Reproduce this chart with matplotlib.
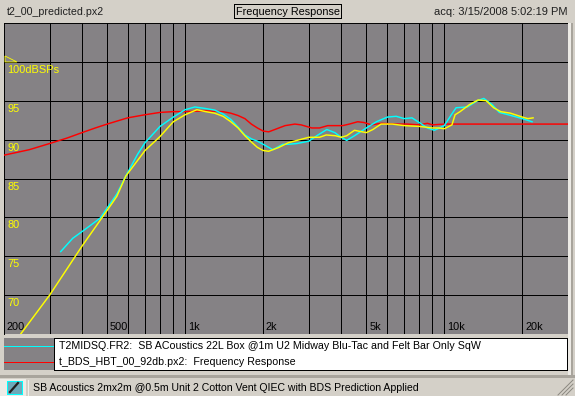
import matplotlib
matplotlib.use('Agg')
import matplotlib.pyplot as plt
from matplotlib.patches import Rectangle, Polygon

plt.rcParams['font.family'] = ['Liberation Sans', 'DejaVu Sans']

# traces: frequency in Hz, level in dB
red_f = [200, 220, 250, 300, 350, 400, 450, 500, 600, 700, 800, 900, 1000, 1200, 1400, 1500, 1600, 1700, 1800, 1900,
         2000, 2100, 2300, 2430, 2650, 2800, 3080, 3300, 3550, 4050, 4300, 4630, 4900, 5230, 5720, 6500, 7200, 8000,
         8600, 9000, 10000, 30000]
red_db = [88.0, 88.3, 88.7, 89.5, 90.2, 90.9, 91.5, 92.0, 92.8, 93.2, 93.5, 93.6, 93.6, 93.7, 93.6, 93.4, 93.1, 92.7,
          92.0, 91.5, 91.1, 91.0, 91.5, 91.8, 92.0, 91.9, 91.5, 91.5, 91.8, 91.8, 92.0, 92.3, 92.2, 91.9, 92.1, 92.0,
          92.0, 91.9, 92.1, 91.9, 92.0, 92.0]

cyan_f = [331, 368, 405, 470, 500, 545, 590, 655, 700, 800, 900, 1000, 1090, 1200, 1300, 1400, 1500, 1600, 1700, 1800,
          1900, 2000, 2180, 2380, 2500, 2700, 3000, 3220, 3520, 3780, 4000, 4200, 4500, 5000, 5470, 6030, 6520, 7000,
          7500, 8000, 8600, 9150, 10000, 10640, 11100, 12270, 13400, 14200, 15300, 16300, 18100, 20000, 21800]
cyan_db = [75.6, 77.3, 78.3, 79.9, 81.2, 83.0, 85.3, 88.1, 89.6, 91.7, 92.9, 93.85, 94.2, 94.0, 93.8, 93.3, 92.6, 91.6,
           90.6, 90.1, 89.8, 89.4, 88.7, 89.4, 89.4, 89.5, 89.8, 90.5, 91.3, 90.9, 90.3, 89.9, 90.5, 91.5, 92.3, 92.9,
           93.0, 92.7, 92.8, 92.2, 91.5, 91.2, 91.8, 93.2, 94.1, 94.2, 95.0, 95.3, 94.5, 93.5, 93.1, 92.7, 92.3]

yellow_f = [200, 232, 300, 400, 500, 545, 590, 700, 800, 900, 1000, 1110, 1200, 1300, 1400, 1500, 1600, 1700, 1800, 1900,
            2000, 2100, 2300, 2500, 2700, 3000, 3300, 3500, 3800, 4000, 4200, 4500, 5000, 5300, 5700, 6300, 7000, 8000,
            9000, 9500, 10000, 10700, 11000, 11500, 12500, 13500, 14500, 15500, 16500, 18000, 20000, 21000, 22000]
yellow_db = [60.5, 65.0, 70.0, 76.3, 80.9, 82.7, 85.3, 88.6, 90.4, 92.3, 93.2, 93.85, 93.6, 93.4, 93.0, 92.3, 91.5, 90.5,
             89.7, 89.0, 88.6, 88.5, 89.0, 89.6, 89.9, 90.3, 90.3, 90.6, 90.5, 90.3, 90.5, 91.2, 90.9, 91.3, 92.0, 92.0,
             91.8, 91.7, 91.5, 91.5, 91.4, 91.9, 93.2, 93.6, 94.5, 95.1, 95.0, 94.1, 93.6, 93.4, 92.9, 92.7, 92.8]

y_ticks = [70, 75, 80, 85, 90, 95, 100]
x_grid = [300, 400, 500, 600, 700, 800, 900, 1000, 2000, 3000, 4000, 5000, 6000, 7000, 8000, 9000, 10000, 20000]
x_labels = {200: '200', 500: '500', 1000: '1k', 2000: '2k', 5000: '5k', 10000: '10k', 20000: '20k'}
y_labels = {70: '70', 75: '75', 80: '80', 85: '85', 90: '90', 95: '95', 100: '100dBSPs'}

W, H = 575, 396
YEL = '#FFFF00'
CYAN = '#00FFFF'
RED = '#FF0000'
GRAY = '#858285'
WIN = '#D4D0C8'

fig = plt.figure(figsize=(W / 100, H / 100), dpi=100, facecolor=WIN)

# window furniture, in pixels
bg = fig.add_axes([0, 0, 1, 1], zorder=2)
bg.set_xlim(0, W)
bg.set_ylim(H, 0)
bg.axis('off')
bg.add_patch(Rectangle((568, 23), 3, 352, fc='#EDEBE6', ec='none'))
bg.add_patch(Rectangle((0, 375), 575, 3, fc='#A8A49C', ec='none'))
bg.add_patch(Rectangle((571, 23), 2, 354, fc='#A8A49C', ec='none'))
bg.add_patch(Rectangle((4, 338), 50, 32, fc=GRAY, ec='none'))
bg.add_patch(Rectangle((54, 338), 513, 32, fc='white', ec='black', lw=0.7, antialiased=False))
bg.plot([4, 53], [346, 346], color=CYAN, lw=0.7, antialiased=False)
bg.plot([4, 53], [362, 362], color=RED, lw=0.7, antialiased=False)
bg.text(59, 346, 'T2MIDSQ.FR2:  SB ACoustics 22L Box @1m U2 Midway Blu-Tac and Felt Bar Only SqW',
        fontsize=7.65, va='center', color='black')
bg.text(59, 362, 't_BDS_HBT_00_92db.px2:  Frequency Response', fontsize=7.65, va='center', color='black')
bg.text(7, 12, 't2_00_predicted.px2', fontsize=7.7, va='center', color='#202020')
bg.add_patch(Rectangle((234, 4), 107, 14, fc=WIN, ec='black', lw=0.7, antialiased=False))
bg.text(287.5, 12, 'Frequency Response', fontsize=7.8, va='center', ha='center', color='black')
bg.text(567, 12, 'acq: 3/15/2008 5:02:19 PM', fontsize=8.0, va='center', ha='right', color='#202020')

# status bar
bg.add_patch(Rectangle((0, 379), 26, 17, fc='#EDEBE6', ec='none'))
bg.add_patch(Rectangle((7, 381), 15, 13, fc='#6FA8B8', ec=CYAN, lw=0.7, antialiased=False))
bg.plot([10, 18], [392, 383], color='#202020', lw=1.6)
bg.plot([28, 28], [380, 396], color='#F4F3EF', lw=0.7)
bg.text(33, 388, 'SB Acoustics 2mx2m @0.5m Unit 2 Cotton Vent QIEC with BDS Prediction Applied',
        fontsize=7.6, va='center', color='black')
for k in range(3):
    bg.plot([572 - 4 * k - 6, 573], [395, 395 - 4 * k - 7], color='#8A877F', lw=0.7)
bg.add_patch(Polygon([(5, 56), (5, 62), (17, 62)], closed=True, fill=False, ec=YEL, lw=0.6))

# plot area
ax = fig.add_axes([4 / W, 1 - 334 / H, 564 / W, 311 / H], zorder=1)
ax.set_facecolor(GRAY)
ax.set_xscale('log')
ax.set_xlim(200, 30000)
ax.set_ylim(65, 105)
ax.set_xticks([])
ax.set_xticks([], minor=True)
ax.set_yticks([])
for side in ['right', 'bottom']:
    ax.spines[side].set_visible(False)
for side in ['left', 'top']:
    ax.spines[side].set_color('black')
    ax.spines[side].set_linewidth(0.7)

for f in x_grid:
    ax.axvline(f, color='black', lw=0.7, antialiased=False, zorder=1)
for v in y_ticks:
    ax.axhline(v, color='black', lw=0.7, antialiased=False, zorder=1)

ax.plot(red_f, red_db, color=RED, lw=1.05, zorder=3)
ax.plot(cyan_f, cyan_db, color=CYAN, lw=1.05, zorder=4)
ax.plot(yellow_f, yellow_db, color=YEL, lw=1.05, zorder=5)

for f, s in x_labels.items():
    ax.annotate(s, (f, 65), xytext=(2, 1.5), textcoords='offset points', fontsize=7.9, color='black',
                ha='left', va='bottom')
for v, s in y_labels.items():
    ax.annotate(s, (200, v), xytext=(2.5, -2.2), textcoords='offset points', fontsize=7.9, color=YEL,
                ha='left', va='top')

fig.savefig('out.png', dpi=100, facecolor=fig.get_facecolor())
